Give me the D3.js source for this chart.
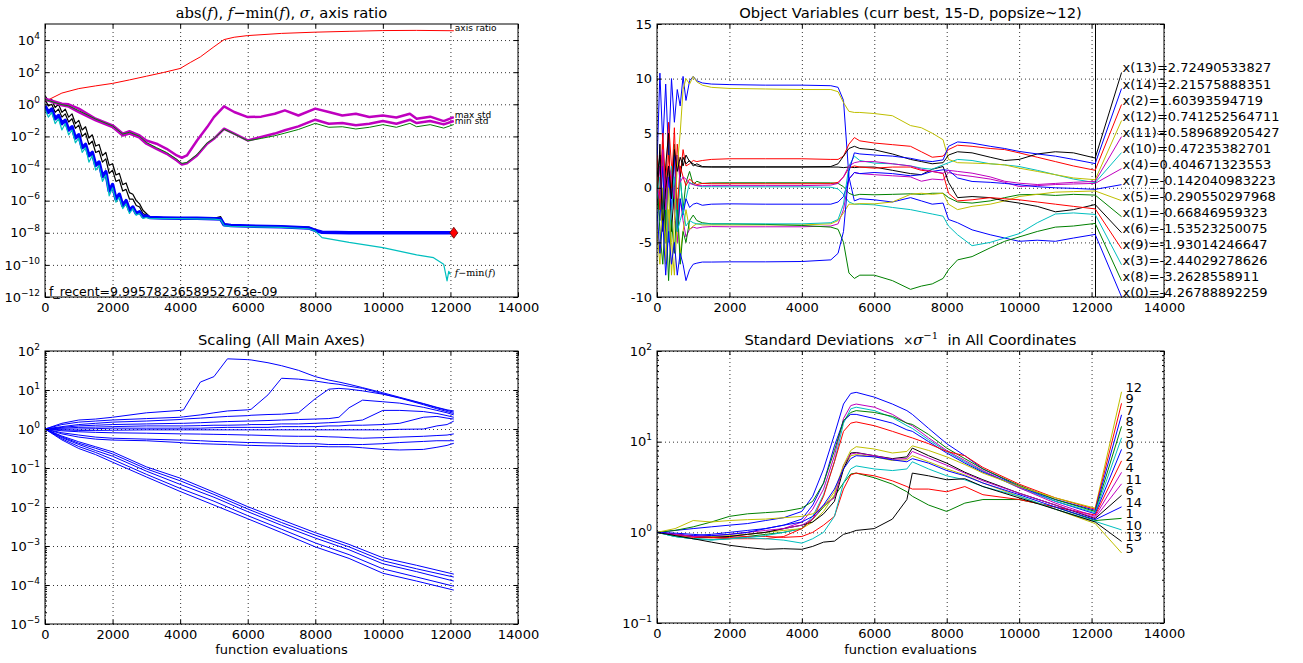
<!DOCTYPE html>
<html lang="en">
<head>
<meta charset="UTF-8">
<title>CMA-ES run</title>
<script src="https://d3js.org/d3.v7.min.js"></script>
<style>
  body { margin: 0; background: #fff; }
  svg { display: block; font-family: "DejaVu Sans", sans-serif; }
  .serif { font-family: "DejaVu Serif", serif; }
</style>
</head>
<body>
<script>
// ---------- shared ----------
const X_TICKS = [0, 2000, 4000, 6000, 8000, 10000, 12000, 14000];
const LAST_EVAL = 12100;
const LABEL_EVAL = 12828;
const COLORS = ["#0000ff", "#008000", "#ff0000", "#00bfbf", "#bf00bf", "#bfbf00", "#000000"];

// ---------- top left: f values (log10 exponents), sigma, stds, axis ratio ----------
const XF = [0, 100, 200, 300, 400, 500, 600, 700, 800, 900, 1000, 1100, 1200, 1300, 1400, 1500,
  1600, 1700, 1800, 1900, 2000, 2100, 2200, 2300, 2400, 2500, 2600, 2700, 2800, 2900, 3000,
  3100, 3500, 4000, 4500, 5000, 5200, 5300, 5500, 6000, 7000, 7800, 8000, 8200, 9000, 10000,
  11000, 11500, 11800, 11900, 11950, 12000, 12100];
const fBestLog = [-0.1, -0.5, -0.3, -0.9, -0.7, -1.2, -1.0, -1.6, -1.4, -2.1,
  -1.9, -2.7, -2.5, -3.2, -3.0, -3.8, -3.6, -4.5, -4.2, -5.4,
  -5.0, -5.9, -5.6, -6.3, -6.0, -6.6, -6.4, -6.8, -6.7, -7.0,
  -6.95, -7.05, -7.08, -7.1, -7.1, -7.12, -7.15, -7.5, -7.55, -7.58,
  -7.62, -7.7, -7.85, -7.97, -8.0, -8.0, -8.0, -8.0, -8.0, -8.0,
  -8.0, -8.0, -8.0];
const fMinusMinLog = [-0.3, -0.8, -0.5, -1.2, -0.9, -1.6, -1.2, -1.9, -1.6, -2.4,
  -2.1, -3.0, -2.7, -3.6, -3.2, -4.1, -3.8, -4.8, -4.4, -5.7,
  -5.2, -6.1, -5.8, -6.5, -6.2, -6.8, -6.5, -6.9, -6.8, -7.1,
  -7.05, -7.1, -7.12, -7.12, -7.13, -7.15, -7.2, -7.55, -7.6, -7.62,
  -7.66, -7.75, -7.9, -8.3, -8.6, -8.92, -9.38, -9.55, -9.96, -11.0,
  -10.4, -10.6, null];
const fMedianLog = [0.55, 0.2, 0.3, -0.2, 0.0, -0.5, -0.3, -0.8, -0.6, -1.2,
  -1.0, -1.6, -1.4, -2.1, -1.9, -2.6, -2.5, -3.2, -3.0, -3.8,
  -3.7, -4.4, -4.3, -5.0, -4.9, -5.5, -5.6, -6.0, -6.2, -6.6,
  -6.8, -7.0, -7.05, -7.08, -7.08, -7.1, -7.0, -7.45, -7.5, -7.55,
  -7.6, -7.65, -7.8, -7.95, -7.98, -7.98, -7.98, -7.98, -7.98, -7.98,
  -7.98, -7.98, -7.98];
const fWorstLog = [0.3, -0.1, 0.0, -0.5, -0.3, -0.8, -0.6, -1.1, -0.9, -1.5,
  -1.3, -2.0, -1.8, -2.5, -2.3, -3.0, -2.9, -3.6, -3.4, -4.3,
  -4.1, -4.8, -4.7, -5.4, -5.3, -5.9, -5.9, -6.3, -6.4, -6.8,
  -6.9, -7.05, -7.08, -7.1, -7.1, -7.11, -7.1, -7.48, -7.52, -7.57,
  -7.61, -7.68, -7.83, -7.96, -7.99, -7.99, -7.99, -7.99, -7.99, -7.99,
  -7.99, -7.99, -7.99];

const XA = [0, 500, 1000, 1500, 2000, 2500, 3000, 3500, 4000, 4300, 4600, 5000, 5300, 5600,
  6000, 7000, 8000, 9000, 10000, 11000, 12100];
const axisRatio = [1.5, 5, 9.5, 14, 20, 33, 56, 95, 170, 400, 900, 3800, 10700, 15000,
  19000, 26000, 31000, 35000, 39000, 40000, 38000];

const XSTD = [0, 500, 700, 1000, 1500, 2000, 2300, 2500, 2800, 3000, 3300, 3600, 3900, 4050,
  4200, 4500, 4800, 5000, 5300, 5600, 6000, 6400, 6800, 7100, 7500, 8000, 8400, 8800, 9200,
  9600, 10000, 10400, 10800, 11000, 11400, 11800, 12100];
const maxStd = [2.2, 1.1, 1.0, 0.54, 0.126, 0.049, 0.015, 0.021, 0.0115, 0.0056,
  0.0035, 0.0017, 6.5e-4, 4.7e-4, 6.5e-4, 0.0056, 0.038, 0.16, 0.75, 0.33,
  0.16, 0.17, 0.26, 0.42, 0.2, 0.54, 0.33, 0.2, 0.26, 0.16,
  0.2, 0.15, 0.26, 0.126, 0.17, 0.09, 0.16];
const minStd = [2.0, 0.87, 0.72, 0.33, 0.1, 0.038, 0.0115, 0.015, 0.0083, 0.0035,
  0.0017, 8.3e-4, 3.2e-4, 1.8e-4, 2.1e-4, 6.5e-4, 0.0035, 0.0071, 0.03, 0.015,
  0.0056, 0.0091, 0.015, 0.024, 0.042, 0.11, 0.062, 0.068, 0.049, 0.062,
  0.091, 0.062, 0.11, 0.068, 0.091, 0.056, 0.091];
const sigma = [2.0, 0.95, 0.8, 0.4, 0.12, 0.045, 0.014, 0.018, 0.01, 0.0042,
  0.002, 0.001, 3.8e-4, 2.1e-4, 2.4e-4, 7.5e-4, 0.004, 0.0075, 0.028, 0.014,
  0.0053, 0.0075, 0.011, 0.016, 0.027, 0.065, 0.037, 0.04, 0.029, 0.037,
  0.054, 0.037, 0.065, 0.04, 0.054, 0.033, 0.055];
const F_RECENT = "f_recent=9.9957823658952763e-09";

// ---------- top right: object variables x(0)..x(14) ----------
const XO = [0, 80, 160, 240, 320, 400, 480, 560, 640, 720, 800, 900, 1000, 1100, 1250, 1500,
  2000, 3000, 4000, 4800, 5000, 5150, 5300, 5450, 5600, 6000, 6500, 7000, 7300, 7600, 7900,
  8050, 8300, 8700, 9200, 9600, 10000, 10500, 11000, 11500, 12100];
const x0 = [2, 10.5, 4, 9.5, 3, 10, 6, 9, 7.5, 10.2, 8, 9.8, 10.2, 9.8, 9.6, 9.5, 9.45, 9.4, 9.4, 9.35,
  9.2, 8.0, 1.0, -1.2, -1.0, -1.1, -1.3, -0.9, -1.2, -1.5, -1.4, -2.9, -3.2, -3.85, -4.3, -4.6, -4.9, -4.8, -4.9, -4.6,
  -4.26788892259];
const x1 = [1, -2, 3, -4, 2, -1, 4, -3, 1, -2, 0.5, 1.5, 0.3, 0.6, 0.4, 0.45, 0.46, 0.46, 0.46, 0.45,
  0.4, 0.1, -0.5, -0.7, -0.6, -0.64, -0.6, -0.55, -0.6, -0.5, -0.5, -0.9, -1.3, -1.4, -1.2, -0.9, -0.64, -0.6, -0.7, -0.6,
  -0.66846959323];
const x2 = [3, -1, 5, 0, 6, 2, -2, 4, 1, 3.5, 2, 2.2, 2.5, 2.4, 2.5, 2.6, 2.66, 2.66, 2.66, 2.6,
  2.6, 2.9, 4.0, 4.6, 4.3, 4.1, 3.95, 3.8, 3.3, 2.8, 2.9, 3.5, 3.9, 3.8, 3.6, 3.5, 3.2, 2.8, 2.4, 2.0,
  1.60393594719];
const x3 = [0, 3, -2, 1, -4, 2, -1, -3, 1, -2, -1, 0.5, 0.3, 0.2, 0.1, 0.1, 0.09, 0.09, 0.09, 0.05,
  -0.1, -0.6, -1.3, -1.5, -1.5, -1.56, -1.8, -2.0, -2.2, -2.4, -2.6, -3.5, -4.3, -5.3, -5.0, -4.6, -4.2, -3.2, -2.4, -2.3,
  -2.44029278626];
const x4 = [-1, 2, -3, 1, -4, 0, -2, -5, -1, -3, -4.5, -3.8, -3.6, -3.7, -3.6, -3.55, -3.57, -3.57, -3.57, -3.5,
  -3.3, -2, 0.8, 1.4, 1.3, 1.2, 1.1, 1.0, 0.6, 0.8, 0.73, 1.4, 1.2, 1.04, 0.8, 0.5, 0.12, 0.2, 0.3, 0.35,
  0.404671323553];
const x5 = [-3, -6, 0, -7, -2, -5, -8, -3, -6, -4, -2, -3.8, -3.5, -3.3, -3.4, -3.4, -3.4, -3.4, -3.4, -3.3,
  -3.0, -2.3, -1.5, -1.5, -1.45, -1.47, -1.3, -0.6, -0.5, -0.6, -0.5, -1.5, -2.0, -1.7, -1.5, -1.2, -0.8, -0.6, -0.4, -0.35,
  -0.290550297968];
const x6 = [-2, 4, -3, 2, 5, -4, 0, 3, 1, 2.8, 2.2, 2.5, 2.0, 2.2, 1.95, 1.9, 1.9, 1.9, 1.9, 1.9,
  1.9, 1.85, 1.9, 1.85, 1.9, 1.9, 1.6, 1.3, 1.2, 1.7, 1.95, 0.5, -0.9, -0.8, -0.9, -1.2, -1.4, -1.7, -2.2, -2.0,
  -1.53523250075];
const x7 = [0, -3, 2, -5, 1, -2, 3, -4, -1, -2.5, -1, -1.8, -1.5, -1.4, -1.6, -1.5, -1.47, -1.5, -1.5, -1.5,
  -1.3, -0.8, 0.8, 1.4, 1.3, 1.4, 1.3, 1.1, 1.2, 1.5, 1.65, 1.6, 0.9, 0.58, 0.5, 0.4, 0.28, 0.1, 0.0, -0.05,
  -0.142040983223];
const x8 = [1, -4, -7, -2, -8.5, -3, -6, -1, -7, -4, -5, -3, -2.5, -3.0, -3.2, -3.3, -3.3, -3.35, -3.45, -3.6,
  -3.8, -5.0, -7.8, -8.3, -8.0, -8.0, -8.5, -9.3, -9.0, -8.8, -8.3, -7.5, -6.6, -6.3, -5.5, -4.9, -4.5, -4.0, -3.6, -3.5,
  -3.2628558911];
const x9 = [2, -2, 4, -1, 3, 0, 5.5, -2, 2, 1, 0.2, 0.8, 0.5, 0.3, 0.4, 0.37, 0.37, 0.37, 0.37, 0.38,
  0.5, 1.0, 1.8, 2.0, 1.9, 1.8, 1.9, 1.9, 1.6, 1.5, 1.3, -0.5, -1.2, -1.1, -0.9, -1.0, -1.1, -1.3, -1.5, -1.7,
  -1.93014246647];
const x10 = [-1, 1, -3, 0, -5, -2, 1, -4, -3, -2, -3.5, -3.0, -3.2, -3.3, -3.3, -3.3, -3.3, -3.3, -3.3, -3.2,
  -2.9, -1.5, 2.0, 2.9, 2.5, 2.26, 2.2, 2.0, 1.8, 1.7, 2.1, 2.3, 2.6, 2.5, 2.2, 2.1, 1.95, 1.6, 1.2, 0.8,
  0.47235382701];
const x11 = [0, -1, 3.5, -2, 2, 1, -1, 3, 0.5, 1, 0.8, 0.4, 0.3, 0.2, 0.2, 0.2, 0.2, 0.2, 0.2, 0.25,
  0.4, 1.0, 2.0, 2.3, 2.4, 2.4, 2.2, 2.0, 1.7, 1.5, 1.34, 1.6, 1.5, 1.34, 1.0, 0.6, 0.42, 0.3, 0.4, 0.5,
  0.589689205427];
const x12 = [-4, -7, -2, -5, 0, -8, -3, 2, 5, 9, 10, 9.5, 10.2, 9.7, 9.4, 9.2, 9.1, 9.05, 9.0, 9.0,
  8.8, 7.8, 7.0, 6.9, 6.9, 6.8, 6.6, 5.7, 5.5, 5.0, 4.4, 2.6, 2.3, 2.26, 2.2, 2.1, 1.8, 1.5, 1.2, 0.9,
  0.741252564711];
const x13 = [1, 3, -4, 0, 2, -1, 3.5, 1.5, 2.8, 2.0, 3.0, 2.4, 2.2, 2.0, 1.9, 1.92, 1.92, 1.92, 1.92, 1.95,
  2.2, 2.9, 3.6, 3.8, 3.6, 3.48, 3.1, 2.6, 2.4, 2.2, 2.3, 3.0, 3.3, 3.2, 2.8, 2.5, 2.6, 3.1, 3.3, 3.2,
  2.72490533827];
const x14 = [-2, -6, -3, -8, -4, -7, -5, -8, -6, -7, -8.5, -7.5, -7, -6.9, -6.8, -6.8, -6.78, -6.78, -6.75, -6.6,
  -6.0, -4.0, 1.5, 3.2, 3.1, 3.0, 2.9, 2.7, 2.5, 2.4, 2.56, 3.8, 4.2, 4.09, 3.8, 3.6, 3.33, 3.1, 2.9, 2.6,
  2.21575888351];
const OBJ_VARS = [x0, x1, x2, x3, x4, x5, x6, x7, x8, x9, x10, x11, x12, x13, x14];

// ---------- bottom left: scaling (sqrt of eigenvalues) ----------
const XL = [0, 500, 1000, 1500, 2000, 3000, 4000, 4100, 4600, 5000, 5400, 6000, 6100, 6600,
  7000, 7500, 8000, 8400, 8700, 9000, 9400, 10000, 10500, 11200, 11600, 11900, 12100];
const ax1 = [1.0, 1.4, 1.7, 1.8, 2.0, 2.6, 3.0, 3.1, 16, 22, 63, 60, 59, 50, 42, 32, 22, 18, 16, 14, 11.5, 8.5, 6.5, 4.5, 3.6, 3.1, 2.9];
const ax2 = [1.0, 1.3, 1.5, 1.6, 1.7, 1.85, 2.0, 2.05, 2.3, 2.6, 2.9, 3.1, 3.2, 7.5, 20, 19, 17, 15, 14, 12.5, 11, 8, 6.3, 4.4, 3.5, 3.0, 2.7];
const ax3 = [1.0, 1.15, 1.3, 1.4, 1.5, 1.6, 1.75, 1.8, 1.9, 2.0, 2.1, 2.2, 2.25, 2.35, 2.4, 2.6, 6, 10.5, 11, 10.5, 9.5, 7.8, 6.2, 4.2, 3.3, 2.8, 2.5];
const ax4 = [1.0, 1.1, 1.2, 1.25, 1.3, 1.35, 1.4, 1.4, 1.45, 1.5, 1.55, 1.6, 1.6, 1.65, 1.7, 1.75, 1.8, 1.85, 2.0, 3.5, 5.5, 5.0, 4.6, 3.6, 3.0, 2.6, 2.3];
const ax5 = [1.0, 1.05, 1.1, 1.12, 1.15, 1.2, 1.2, 1.2, 1.22, 1.25, 1.25, 1.28, 1.3, 1.3, 1.35, 1.35, 1.4, 1.45, 1.5, 1.55, 1.7, 3.0, 3.0, 2.8, 2.5, 2.2, 2.0];
const ax6 = [1.0, 1.0, 1.0, 1.02, 1.05, 1.05, 1.05, 1.05, 1.05, 1.08, 1.1, 1.1, 1.1, 1.1, 1.15, 1.15, 1.15, 1.2, 1.2, 1.25, 1.25, 1.3, 1.4, 2.0, 2.1, 1.9, 1.8];
const ax7 = [1.0, 0.95, 0.92, 0.92, 0.93, 0.95, 0.95, 0.95, 0.95, 0.95, 0.95, 0.95, 0.95, 0.95, 0.95, 0.95, 0.95, 0.95, 0.95, 0.95, 0.95, 0.95, 0.98, 1.0, 1.2, 1.3, 1.6];
const ax8 = [1.0, 0.9, 0.85, 0.82, 0.8, 0.78, 0.75, 0.75, 0.74, 0.73, 0.72, 0.7, 0.7, 0.68, 0.66, 0.65, 0.65, 0.63, 0.62, 0.6, 0.58, 0.6, 0.62, 0.65, 0.68, 0.7, 0.75];
const ax9 = [1.0, 0.8, 0.7, 0.62, 0.58, 0.55, 0.52, 0.52, 0.5, 0.48, 0.47, 0.45, 0.45, 0.44, 0.43, 0.42, 0.42, 0.4, 0.4, 0.4, 0.4, 0.42, 0.45, 0.48, 0.5, 0.5, 0.5];
const ax10 = [1.0, 0.75, 0.62, 0.55, 0.52, 0.5, 0.45, 0.44, 0.42, 0.41, 0.4, 0.38, 0.38, 0.37, 0.37, 0.36, 0.36, 0.35, 0.35, 0.35, 0.33, 0.3, 0.29, 0.3, 0.34, 0.38, 0.43];
const XLL = [0, 500, 1000, 1500, 2000, 3000, 4000, 5000, 6000, 7000, 8000, 9000, 10000, 11000, 12100];
const ax11 = [1.0, 0.66, 0.47, 0.35, 0.26, 0.107, 0.055, 0.024, 0.0102, 0.0047, 0.0022, 0.0011, 0.0005, 0.00032, 0.00019];
const ax12 = [1.0, 0.63, 0.43, 0.32, 0.23, 0.095, 0.047, 0.021, 0.0089, 0.004, 0.0019, 0.00095, 0.00042, 0.00026, 0.00016];
const ax13 = [1.0, 0.6, 0.4, 0.28, 0.2, 0.083, 0.038, 0.0178, 0.0076, 0.0034, 0.0016, 0.0008, 0.00035, 0.00022, 0.000126];
const ax14 = [1.0, 0.56, 0.355, 0.25, 0.166, 0.069, 0.030, 0.0141, 0.006, 0.0027, 0.0012, 0.0006, 0.00026, 0.00016, 0.000093];
const ax15 = [1.0, 0.525, 0.316, 0.22, 0.141, 0.059, 0.025, 0.0112, 0.005, 0.0022, 0.00095, 0.00048, 0.0002, 0.000126, 0.000074];
const AXES_UPPER = [ax1, ax2, ax3, ax4, ax5, ax6, ax7, ax8, ax9, ax10];
const AXES_LOWER = [ax11, ax12, ax13, ax14, ax15];

// ---------- bottom right: standard deviations / sigma per coordinate ----------
const XS = [0, 500, 1000, 1500, 2000, 2500, 3000, 3500, 4000, 4300, 4600, 4900, 5150, 5350, 5500,
  6000, 6500, 6900, 7050, 7500, 8000, 8500, 9000, 10000, 11000, 12100];
const s0 = [1.0, 1.05, 1.1, 1.15, 1.2, 1.25, 1.35, 1.45, 1.7, 2.5, 5.0, 12, 26, 34, 35, 31, 26, 22, 20, 14, 9.5, 7.0, 5.0, 3.2, 2.2, 1.6];
const s1 = [1.0, 0.9, 0.85, 0.83, 0.85, 0.9, 0.95, 1.0, 1.1, 1.4, 1.9, 2.5, 3.5, 4.4, 4.5, 4.0, 3.4, 2.8, 2.5, 2.0, 1.7, 2.1, 2.3, 2.3, 1.9, 1.35];
const s2 = [1.0, 0.92, 0.88, 0.87, 0.88, 0.9, 0.9, 0.88, 0.9, 1.0, 1.2, 1.5, 3.0, 4.3, 4.5, 4.2, 3.7, 3.2, 3.0, 3.0, 2.8, 3.2, 2.6, 2.3, 1.9, 1.55];
const s3 = [1.0, 0.9, 0.85, 0.83, 0.85, 0.88, 0.92, 1.0, 1.1, 1.5, 2.6, 6, 16, 23, 24, 22, 18.5, 15, 14, 10.5, 7.8, 6.0, 4.7, 3.1, 2.2, 1.65];
const s4 = [1.0, 0.95, 0.9, 0.88, 0.9, 0.95, 1.0, 1.1, 1.3, 1.8, 3.0, 7, 18, 25, 26, 24, 20, 16, 15, 11, 8.0, 6.2, 4.8, 3.1, 2.1, 1.5];
const s5 = [1.0, 0.92, 0.9, 0.9, 0.92, 0.95, 1.0, 1.05, 1.1, 1.3, 1.7, 2.6, 5.0, 7.0, 7.2, 6.8, 6.2, 6.3, 7.0, 6.0, 5.0, 4.3, 3.5, 2.5, 1.8, 1.25];
const s6 = [1.0, 0.95, 0.9, 0.88, 0.9, 0.95, 1.0, 1.1, 1.2, 1.3, 1.6, 2.2, 5.0, 7.5, 7.6, 7.0, 6.5, 6.8, 8.5, 7.0, 5.8, 4.6, 3.8, 2.7, 2.0, 1.42];
const s7 = [1.0, 0.95, 0.92, 0.95, 1.0, 1.05, 1.1, 1.2, 1.4, 2.0, 3.5, 9, 17, 20, 20, 18, 16, 13.5, 13, 10, 7.5, 5.8, 4.6, 3.2, 2.3, 1.75];
const s8 = [1.0, 1.05, 1.15, 1.3, 1.5, 1.6, 1.65, 1.7, 1.85, 2.2, 3.5, 8, 17, 21, 22, 21, 19, 16, 15.5, 12, 8.5, 6.5, 5.0, 3.3, 2.3, 1.7];
const s9 = [1.0, 0.95, 0.9, 0.88, 0.85, 0.85, 0.85, 0.9, 1.1, 1.4, 2.5, 6, 13, 16, 16.5, 15, 13, 11.5, 11, 9.5, 7.8, 7.0, 5.2, 3.4, 2.4, 1.8];
const s10 = [1.0, 0.9, 0.85, 0.82, 0.85, 0.87, 0.85, 0.82, 0.76, 0.85, 1.0, 1.5, 3.5, 5.0, 5.4, 5.0, 4.8, 5.0, 6.0, 5.0, 4.2, 3.8, 3.2, 2.5, 1.8, 1.32];
const s11 = [1.0, 0.95, 0.9, 0.92, 0.95, 1.0, 1.05, 1.1, 1.2, 1.4, 2.0, 2.4, 5.5, 7.3, 7.5, 7.0, 6.4, 6.5, 7.8, 6.6, 5.5, 4.5, 3.7, 2.7, 2.0, 1.45];
const s12 = [1.0, 1.1, 1.35, 1.3, 1.35, 1.38, 1.4, 1.45, 1.5, 1.6, 1.9, 2.8, 5.5, 8.0, 8.8, 8.3, 7.5, 7.8, 9.0, 8.0, 6.8, 5.6, 4.5, 3.2, 2.4, 1.85];
const s13 = [1.0, 0.92, 0.85, 0.78, 0.72, 0.68, 0.65, 0.66, 0.65, 0.7, 0.78, 0.8, 0.95, 1.0, 1.05, 1.1, 1.4, 2.3, 4.5, 4.2, 3.8, 3.9, 3.2, 2.4, 1.8, 1.3];
const s14 = [1.0, 0.98, 0.95, 0.92, 0.95, 1.0, 1.1, 1.2, 1.3, 1.5, 2.0, 3.0, 5.0, 6.5, 7.0, 6.8, 6.3, 6.0, 6.5, 5.8, 4.8, 4.2, 3.5, 2.6, 1.9, 1.38];
const STDS = [s0, s1, s2, s3, s4, s5, s6, s7, s8, s9, s10, s11, s12, s13, s14];

// ---------- drawing ----------
const svg = d3.select("body").append("svg").attr("width", 1303).attr("height", 663);

function supLabel(sel) {
  sel.each(function (d) {
    const e = Math.round(Math.log10(d));
    const t = d3.select(this).text(null);
    t.append("tspan").text("10");
    t.append("tspan").attr("dy", -6).attr("font-size", 9).text(e < 0 ? "\u2212" + (-e) : String(e));
  });
}

function minorTicks(y) {
  const [a, b] = y.domain();
  const out = [];
  for (let e = Math.round(Math.log10(a)); e < Math.round(Math.log10(b)); e++) {
    for (let k = 2; k <= 9; k++) out.push(k * Math.pow(10, e));
  }
  return out;
}

function makePanel(id, box, x, y, cfg) {
  const w = box.x1 - box.x0, h = box.y1 - box.y0;
  const root = svg.append("g");
  root.append("clipPath").attr("id", id).append("rect")
    .attr("x", box.x0).attr("y", box.y0).attr("width", w).attr("height", h);

  const grid = root.append("g");
  grid.append("g").attr("transform", `translate(0,${box.y1})`)
    .call(d3.axisBottom(x).tickValues(X_TICKS).tickSize(-h).tickFormat(""));
  grid.append("g").attr("transform", `translate(${box.x0},0)`)
    .call(d3.axisLeft(y).tickValues(cfg.yTicks).tickSize(-w).tickFormat(""));
  grid.selectAll(".domain").remove();
  grid.selectAll("line").attr("stroke", "#000").attr("stroke-width", 0.8).attr("stroke-dasharray", "1,3");

  const data = root.append("g").attr("clip-path", `url(#${id})`);
  const over = root.append("g");
  const axes = root.append("g");

  axes.append("g").attr("transform", `translate(0,${box.y1})`)
    .call(d3.axisBottom(x).tickValues(X_TICKS).tickSizeInner(-4).tickSizeOuter(0).tickPadding(5.5).tickFormat(d => String(d)));
  axes.append("g").attr("transform", `translate(0,${box.y0})`)
    .call(d3.axisTop(x).tickValues(X_TICKS).tickSizeInner(-4).tickSizeOuter(0).tickFormat(""));
  const left = axes.append("g").attr("transform", `translate(${box.x0},0)`)
    .call(d3.axisLeft(y).tickValues(cfg.yTicks).tickSizeInner(-4).tickSizeOuter(0).tickPadding(5)
      .tickFormat(d => String(d)));
  axes.append("g").attr("transform", `translate(${box.x1},0)`)
    .call(d3.axisRight(y).tickValues(cfg.yTicks).tickSizeInner(-4).tickSizeOuter(0).tickFormat(""));
  if (cfg.minor) {
    axes.append("g").attr("transform", `translate(${box.x0},0)`)
      .call(d3.axisLeft(y).tickValues(minorTicks(y)).tickSizeInner(-2).tickSizeOuter(0).tickFormat(""));
    axes.append("g").attr("transform", `translate(${box.x1},0)`)
      .call(d3.axisRight(y).tickValues(minorTicks(y)).tickSizeInner(-2).tickSizeOuter(0).tickFormat(""));
  }
  if (cfg.log) left.selectAll(".tick text").call(supLabel);
  axes.selectAll(".domain").remove();
  axes.selectAll("line").attr("stroke", "#000");
  axes.selectAll("g").attr("font-family", null).attr("font-size", 13);
  axes.selectAll("text").attr("fill", "#000");
  axes.append("rect").attr("x", box.x0).attr("y", box.y0).attr("width", w).attr("height", h)
    .attr("fill", "none").attr("stroke", "#000").attr("stroke-width", 1);
  return { data, over };
}

function pairs(xs, vs) { return vs.map((v, i) => [xs[i], v]); }

function addLine(layer, gen, pts, color, width) {
  layer.append("path").attr("d", gen(pts)).attr("fill", "none")
    .attr("stroke", color).attr("stroke-width", width).attr("stroke-linejoin", "round");
}

// ===== top left =====
const boxTL = { x0: 45, x1: 518, y0: 24, y1: 297 };
const xTL = d3.scaleLinear().domain([0, 14000]).range([boxTL.x0, boxTL.x1]);
const yTL = d3.scaleLog().domain([1e-12, 1e5]).range([boxTL.y1, boxTL.y0]);
const pTL = makePanel("clipTL", boxTL, xTL, yTL, {
  yTicks: [1e-12, 1e-10, 1e-8, 1e-6, 1e-4, 1e-2, 1, 1e2, 1e4], log: true, minor: false });
const lineTL = d3.line().defined(d => d[1] != null).x(d => xTL(d[0])).y(d => yTL(d[1]));
const expo = arr => arr.map(v => v == null ? null : Math.pow(10, v));

addLine(pTL.data, lineTL, pairs(XA, axisRatio), "#ff0000", 1);
addLine(pTL.data, lineTL, pairs(XF, expo(fMedianLog)), "#000000", 1.2);
addLine(pTL.data, lineTL, pairs(XF, expo(fWorstLog)), "#000000", 1.2);
addLine(pTL.data, lineTL, pairs(XF, expo(fBestLog)), "#0000ff", 3.5);
addLine(pTL.data, lineTL, pairs(XF, expo(fMinusMinLog)), "#00bfbf", 1.2);
addLine(pTL.data, lineTL, pairs(XSTD, maxStd), "#bf00bf", 2.5);
addLine(pTL.data, lineTL, pairs(XSTD, minStd), "#bf00bf", 2.5);
addLine(pTL.data, lineTL, pairs(XSTD, sigma), "#008000", 1);

const lastF = Math.pow(10, fBestLog[fBestLog.length - 1]);
pTL.data.append("path").attr("d", "M0,-5.5L4,0L0,5.5L-4,0Z")
  .attr("transform", `translate(${xTL(LAST_EVAL)},${yTL(lastF)})`)
  .attr("fill", "#ff0000").attr("stroke", "#600000").attr("stroke-width", 0.8);

pTL.over.append("text").attr("x", xTL(LAST_EVAL) + 1).attr("y", yTL(axisRatio[axisRatio.length - 1]))
  .attr("font-size", 9).text("axis ratio");
pTL.over.append("text").attr("x", xTL(LAST_EVAL) + 1).attr("y", yTL(maxStd[maxStd.length - 1]) + 1)
  .attr("font-size", 9).text("max std");
pTL.over.append("text").attr("x", xTL(LAST_EVAL) + 1).attr("y", yTL(minStd[minStd.length - 1]) + 3)
  .attr("font-size", 9).text("min std");
const fmLast = Math.pow(10, fMinusMinLog[fMinusMinLog.length - 2]);
const fmText = pTL.over.append("text").attr("class", "serif").attr("x", xTL(LAST_EVAL) + 1)
  .attr("y", yTL(fmLast) + 1).attr("font-size", 9.5);
fmText.append("tspan").attr("font-style", "italic").text("f");
fmText.append("tspan").text("\u2212min(");
fmText.append("tspan").attr("font-style", "italic").text("f");
fmText.append("tspan").text(")");
pTL.over.append("text").attr("x", boxTL.x0 + 4).attr("y", boxTL.y1 - 1)
  .attr("font-size", 12.5).text(F_RECENT);

const tTL = svg.append("text").attr("x", (boxTL.x0 + boxTL.x1) / 2).attr("y", 18)
  .attr("text-anchor", "middle").attr("font-size", 14.7);
[["abs(", "s", ""], ["f", "s", "i"], [")", "s", ""], [", ", "", ""], ["f", "s", "i"],
 ["\u2212min(", "s", ""], ["f", "s", "i"], [")", "s", ""], [", ", "", ""], ["\u03c3", "s", "i"],
 [", axis ratio", "", ""]].forEach(([t, f, it]) => {
  const sp = tTL.append("tspan").text(t);
  if (f) sp.attr("font-family", "DejaVu Serif, serif");
  if (it) sp.attr("font-style", "italic");
});

// ===== top right =====
const boxTR = { x0: 657, x1: 1164, y0: 24, y1: 297 };
const xTR = d3.scaleLinear().domain([0, 14000]).range([boxTR.x0, boxTR.x1]);
const yTR = d3.scaleLinear().domain([-10, 15]).range([boxTR.y1, boxTR.y0]);
const pTR = makePanel("clipTR", boxTR, xTR, yTR, { yTicks: [-10, -5, 0, 5, 10, 15], log: false });
const lineTR = d3.line().x(d => xTR(d[0])).y(d => yTR(d[1]));
OBJ_VARS.forEach((vals, i) => addLine(pTR.data, lineTR, pairs(XO, vals), COLORS[i % 7], 1));
const xLastTR = Math.round(xTR(LAST_EVAL)) + 0.5;
pTR.data.append("line").attr("x1", xLastTR).attr("x2", xLastTR)
  .attr("y1", boxTR.y0).attr("y2", boxTR.y1).attr("stroke", "#000");

const orderTR = d3.range(OBJ_VARS.length)
  .sort((a, b) => OBJ_VARS[b][OBJ_VARS[b].length - 1] - OBJ_VARS[a][OBJ_VARS[a].length - 1]);
const slotTR = d3.scaleLinear().domain([0, orderTR.length - 1]).range([10.56, -9.98]);
orderTR.forEach((idx, k) => {
  const vals = OBJ_VARS[idx], last = vals[vals.length - 1];
  pTR.over.append("line").attr("x1", xTR(LAST_EVAL)).attr("y1", yTR(last))
    .attr("x2", xTR(LABEL_EVAL)).attr("y2", yTR(slotTR(k)))
    .attr("stroke", COLORS[idx % 7]).attr("stroke-width", 1);
  pTR.over.append("text").attr("x", xTR(LABEL_EVAL) + 1).attr("y", yTR(slotTR(k)))
    .attr("font-size", 13).text(`x(${idx})=${last}`);
});
svg.append("text").attr("x", (boxTR.x0 + boxTR.x1) / 2).attr("y", 18).attr("text-anchor", "middle")
  .attr("font-size", 14.7).text("Object Variables (curr best, 15-D, popsize~12)");

// ===== bottom left =====
const boxBL = { x0: 45, x1: 518, y0: 351, y1: 624 };
const xBL = d3.scaleLinear().domain([0, 14000]).range([boxBL.x0, boxBL.x1]);
const yBL = d3.scaleLog().domain([1e-5, 1e2]).range([boxBL.y1, boxBL.y0]);
const pBL = makePanel("clipBL", boxBL, xBL, yBL, {
  yTicks: [1e-5, 1e-4, 1e-3, 1e-2, 1e-1, 1, 10, 100], log: true, minor: true });
const lineBL = d3.line().x(d => xBL(d[0])).y(d => yBL(d[1]));
AXES_UPPER.forEach(vals => addLine(pBL.data, lineBL, pairs(XL, vals), "#0000ff", 1));
AXES_LOWER.forEach(vals => addLine(pBL.data, lineBL, pairs(XLL, vals), "#0000ff", 1));
svg.append("text").attr("x", (boxBL.x0 + boxBL.x1) / 2).attr("y", 345).attr("text-anchor", "middle")
  .attr("font-size", 14.7).text("Scaling (All Main Axes)");
svg.append("text").attr("x", (boxBL.x0 + boxBL.x1) / 2).attr("y", 654).attr("text-anchor", "middle")
  .attr("font-size", 13).text("function evaluations");

// ===== bottom right =====
const boxBR = { x0: 657, x1: 1164, y0: 351, y1: 623 };
const xBR = d3.scaleLinear().domain([0, 14000]).range([boxBR.x0, boxBR.x1]);
const yBR = d3.scaleLog().domain([0.1, 100]).range([boxBR.y1, boxBR.y0]);
const pBR = makePanel("clipBR", boxBR, xBR, yBR, { yTicks: [0.1, 1, 10, 100], log: true, minor: true });
const lineBR = d3.line().x(d => xBR(d[0])).y(d => yBR(d[1]));
STDS.forEach((vals, i) => addLine(pBR.data, lineBR, pairs(XS, vals), COLORS[i % 7], 1));

const orderBR = d3.range(STDS.length)
  .sort((a, b) => STDS[b][STDS[b].length - 1] - STDS[a][STDS[a].length - 1]);
const slotBR = d3.scaleLinear().domain([0, orderBR.length - 1]).range([1.55, -0.227]);
orderBR.forEach((idx, k) => {
  const vals = STDS[idx], last = vals[vals.length - 1];
  const yEnd = yBR(Math.pow(10, slotBR(k)));
  pBR.over.append("line").attr("x1", xBR(LAST_EVAL)).attr("y1", yBR(last))
    .attr("x2", xBR(LABEL_EVAL)).attr("y2", yEnd)
    .attr("stroke", COLORS[idx % 7]).attr("stroke-width", 1);
  pBR.over.append("text").attr("x", xBR(LABEL_EVAL) + 4).attr("y", yEnd)
    .attr("font-size", 13).text(String(idx));
});
const tBR = svg.append("text").attr("x", (boxBR.x0 + boxBR.x1) / 2).attr("y", 345)
  .attr("text-anchor", "middle").attr("font-size", 14.7);
tBR.append("tspan").text("Standard Deviations\u00a0\u00a0");
tBR.append("tspan").attr("font-family", "DejaVu Serif, serif").attr("font-size", 12).text("\u00d7");
tBR.append("tspan").attr("font-family", "DejaVu Serif, serif").attr("font-style", "italic").text("\u03c3");
tBR.append("tspan").attr("font-family", "DejaVu Serif, serif").attr("font-size", 10).attr("dy", -6).text("\u22121");
tBR.append("tspan").attr("dy", 6).text("\u00a0\u00a0in All Coordinates");
svg.append("text").attr("x", (boxBR.x0 + boxBR.x1) / 2).attr("y", 654).attr("text-anchor", "middle")
  .attr("font-size", 13).text("function evaluations");
</script>
</body>
</html>
